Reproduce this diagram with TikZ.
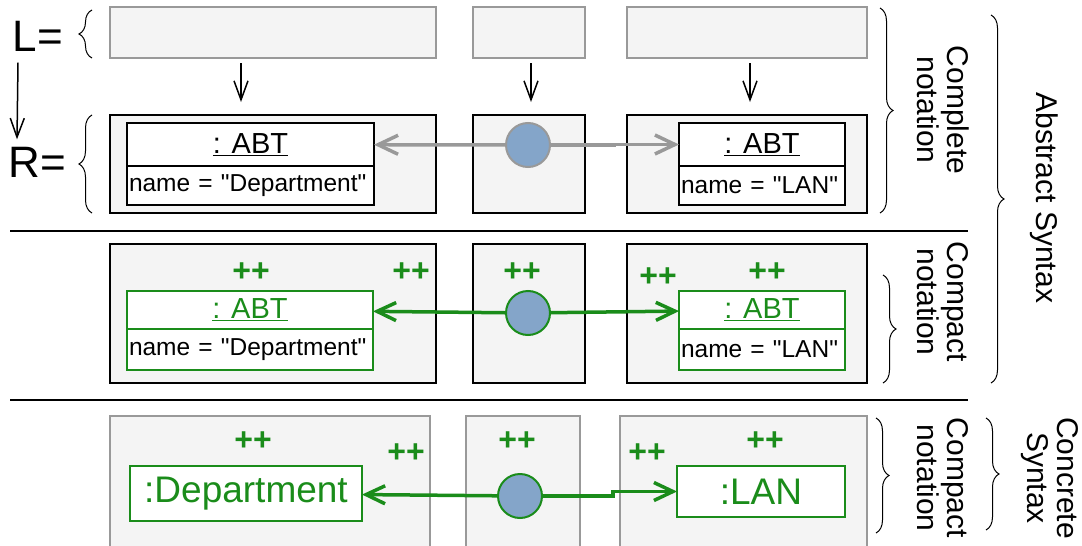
\documentclass[tikz,border=0pt]{standalone}
\usepackage{fontspec}
\setmainfont{Liberation Sans}
\usetikzlibrary{arrows.meta,decorations.pathreplacing,positioning}

\definecolor{boxgray}{HTML}{F4F4F4}
\definecolor{edgegray}{HTML}{999999}
\definecolor{plusgreen}{HTML}{1A8C1A}
\definecolor{dotblue}{HTML}{84A5C9}

\tikzset{
  lrule/.style={draw=edgegray, fill=boxgray, line width=2pt, inner sep=0pt},
  rrule/.style={draw=black, fill=boxgray, line width=2pt, inner sep=0pt},
  objhead/.style={draw, fill=white, line width=1.6pt, inner sep=0pt, outer sep=0pt,
    font=\fontsize{29}{32}\selectfont},
  objattr/.style={draw, fill=white, line width=1.6pt, inner xsep=2pt, inner ysep=0pt,
    outer sep=0pt, align=left, font=\fontsize{24.5}{28}\selectfont},
  newobj/.style={objhead, draw=plusgreen, text=plusgreen},
  dot/.style={circle, draw=edgegray, fill=dotblue, line width=2pt, minimum size=44pt, inner sep=0pt},
  newdot/.style={dot, draw=plusgreen},
  plus/.style={text=plusgreen, font=\fontsize{32}{34}\selectfont\bfseries, inner sep=0pt},
  grayarrow/.style={draw=edgegray, line width=3.5pt, -{Straight Barb[length=20pt,width=19pt]}},
  greenarrow/.style={draw=plusgreen, line width=3.5pt, -{Straight Barb[length=19pt,width=18pt]}},
  maparrow/.style={draw=black, line width=1.5pt, -{Straight Barb[length=19pt,width=14pt]}},
  sbrace/.style={decorate, decoration={brace, amplitude=13pt}, line width=1pt},
  side/.style={rotate=-90, align=center, font=\fontsize{30}{30}\selectfont},
}

\begin{document}
\begin{tikzpicture}[x=1pt, y=-1pt]
  \useasboundingbox (0,0) rectangle (1082,546);
  \clip (0,0) rectangle (1082,546);

  % left side
  \node [font=\fontsize{44}{46}\selectfont] (Lsym) at (38,36) {L=};
  \node [font=\fontsize{44}{46}\selectfont] (Rsym) at (37,162) {R=};
  \draw [maparrow] ([xshift=-20pt,yshift=-8pt]Lsym.south) -- ([xshift=-20pt,yshift=4pt]Rsym.north);
  \draw [sbrace] (92,58) -- (92,10);
  \draw [sbrace] (92,213) -- (92,115);

  % rule: L and R
  \node [lrule, minimum width=326pt, minimum height=51pt] (L1) at (273,32.5) {};
  \node [lrule, minimum width=112pt, minimum height=51pt] (L2) at (529,32.5) {};
  \node [lrule, minimum width=240pt, minimum height=51pt] (L3) at (747,32.5) {};
  \node [rrule, minimum width=326pt, minimum height=98pt] (R1) at (273,164) {};
  \node [rrule, minimum width=112pt, minimum height=98pt] (R2) at (529,164) {};
  \node [rrule, minimum width=240pt, minimum height=98pt] (R3) at (747,164) {};
  \draw [maparrow] ([xshift=-32pt,yshift=-4pt]L1.south) -- ([xshift=-32pt,yshift=12pt]R1.north);
  \draw [maparrow] ([xshift=2pt,yshift=-4pt]L2.south) -- ([xshift=2pt,yshift=12pt]R2.north);
  \draw [maparrow] ([xshift=3pt,yshift=-4pt]L3.south) -- ([xshift=3pt,yshift=12pt]R3.north);

  \node [objhead, minimum width=247pt, minimum height=43pt] (R1head) at (250.5,144.5) {\underline{: ABT}};
  \node [objattr, minimum width=247pt, minimum height=39pt, text width=243pt, below=0pt of R1head] (R1attr) {name = \textquotedbl Department\textquotedbl};
  \node [objhead, minimum width=166pt, minimum height=43pt] (R3head) at (762,144.5) {\underline{: ABT}};
  \node [objattr, minimum width=166pt, minimum height=39pt, text width=162pt, below=0pt of R3head] (R3attr) {name = \textquotedbl LAN\textquotedbl};
  \node [dot] (R2dot) at (528,145) {};
  \draw [grayarrow] (R2dot) -- (R1head);
  \draw [grayarrow] (R2dot.east) -- ++(63,0) |- (R3head.west);

  \draw [line width=2pt] (10,231) -- (968,231);

  % compact notation, abstract syntax
  \node [rrule, minimum width=326pt, minimum height=139pt] (C1) at (273,313.5) {};
  \node [rrule, minimum width=112pt, minimum height=139pt] (C2) at (529,313.5) {};
  \node [rrule, minimum width=240pt, minimum height=139pt] (C3) at (747,313.5) {};
  \node [newobj, minimum width=246pt, minimum height=38pt] (C1head) at (250,310) {\underline{: ABT}};
  \node [objattr, draw=plusgreen, minimum width=246pt, minimum height=41pt, text width=242pt, below=0pt of C1head] (C1attr) {name = \textquotedbl Department\textquotedbl};
  \node [newobj, minimum width=166pt, minimum height=38pt] (C3head) at (762,310) {\underline{: ABT}};
  \node [objattr, draw=plusgreen, minimum width=166pt, minimum height=41pt, text width=162pt, below=0pt of C3head] (C3attr) {name = \textquotedbl LAN\textquotedbl};
  \node [newdot] (C2dot) at (528,313) {};
  \draw [greenarrow] (C2dot) -- (C1head);
  \draw [greenarrow] (C2dot) -- (C3head);
  \node [plus] (C1p) at (251,272) {++};
  \node [plus] (C1q) at (411,272) {++};
  \node [plus] (C2p) at (522,272) {++};
  \node [plus] (C3q) at (658,277) {++};
  \node [plus] (C3p) at (767,272) {++};

  \draw [line width=2pt] (10,400) -- (968,400);

  % compact notation, concrete syntax
  \node [lrule, minimum width=320pt, minimum height=160pt] (K1) at (270,496) {};
  \node [lrule, minimum width=114pt, minimum height=160pt] (K2) at (523,496) {};
  \node [lrule, minimum width=247pt, minimum height=160pt] (K3) at (743.5,496) {};
  \node [newobj, minimum width=232pt, minimum height=55pt, font=\fontsize{37}{40}\selectfont] (K1obj) at (246,493.5) {:Department};
  \node [newobj, minimum width=168pt, minimum height=51pt, font=\fontsize{37}{40}\selectfont] (K3obj) at (761,491.5) {:LAN};
  \node [newdot] (K2dot) at (520,496) {};
  \draw [greenarrow] (K2dot) -- (K1obj);
  \draw [greenarrow] (K2dot.east) -- ++(70,0) |- (K3obj.west);
  \node [plus] (K1p) at (253,441) {++};
  \node [plus] (K1q) at (406,453) {++};
  \node [plus] (K2p) at (517,441) {++};
  \node [plus] (K3q) at (647,453) {++};
  \node [plus] (K3p) at (765,441) {++};

  % right side
  \draw [sbrace] (880,8) -- (880,213);
  \node [side] (complete) at (943,110) {Complete\\notation};
  \draw [sbrace] (883,275) -- (883,383);
  \node [side] (compactA) at (943,302) {Compact\\notation};
  \draw [sbrace] (991,15) -- (991,383);
  \node [side] (abstract) at (1044,198) {Abstract Syntax};
  \draw [sbrace] (876,418) -- (876,533);
  \node [side] (compactC) at (943,478) {Compact\\notation};
  \draw [sbrace] (986,418) -- (986,530);
  \node [side] (concrete) at (1050,478) {Concrete\\Syntax};
\end{tikzpicture}
\end{document}
